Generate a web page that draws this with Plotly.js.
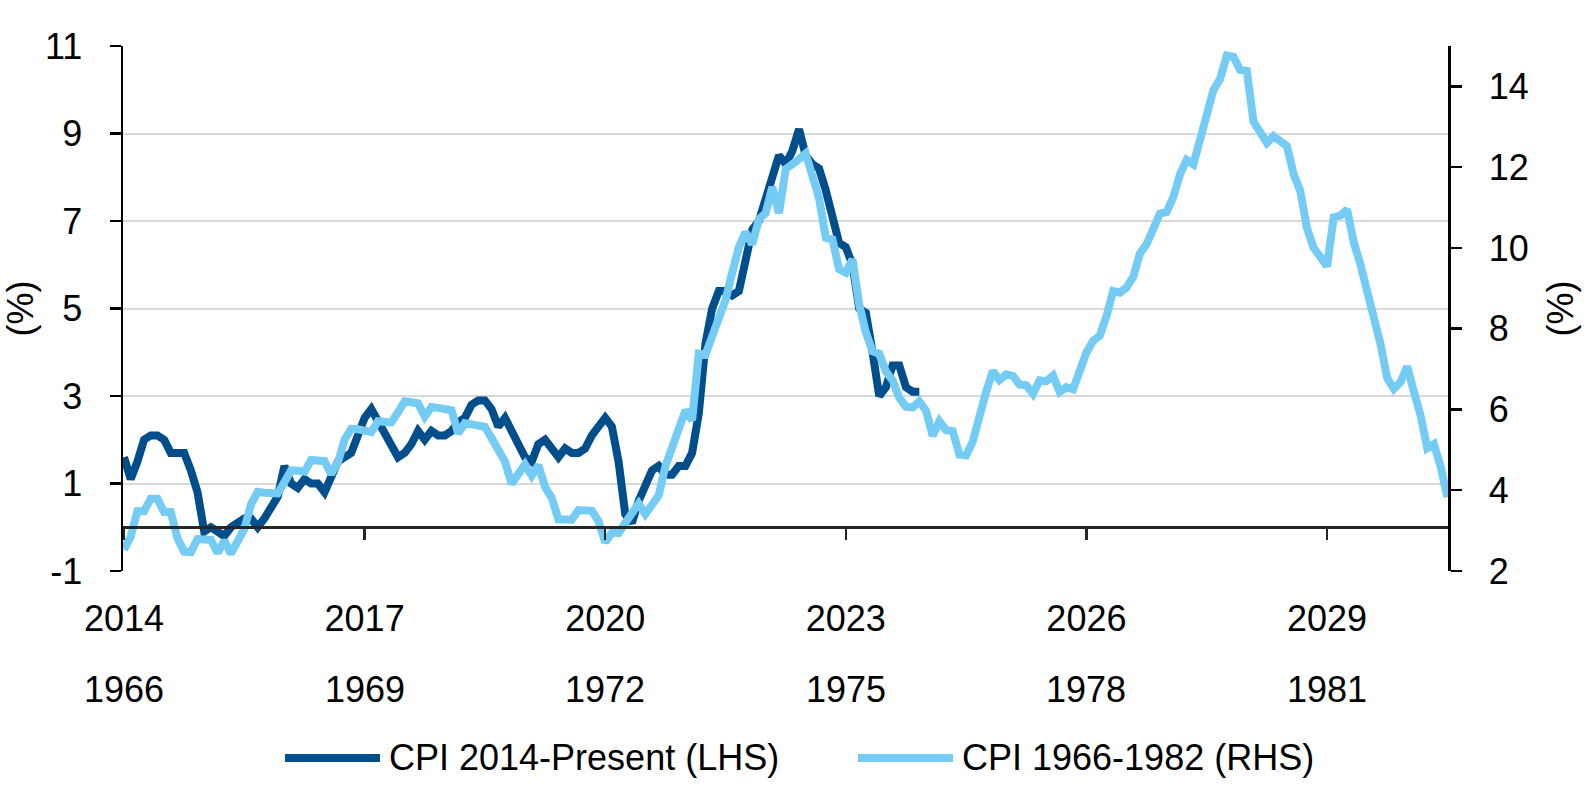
<!DOCTYPE html>
<html>
<head>
<meta charset="utf-8">
<script src="https://cdn.plot.ly/plotly-3.0.1.min.js"></script>
<style>
html,body{margin:0;padding:0;background:#ffffff;}
#chart{width:1584px;height:792px;}
</style>
</head>
<body>
<div id="chart"></div>
<script>
// ---- data (monthly YoY CPI, %) ----
// CPI 2014-Present: Jan 2014 .. Dec 2023
const cpiModern = [
  1.6, 1.1, 1.5, 2.0, 2.1, 2.1, 2.0, 1.7, 1.7, 1.7, 1.3, 0.8,
  -0.1, 0.0, -0.1, -0.2, 0.0, 0.1, 0.2, 0.2, 0.0, 0.2, 0.5, 0.7,
  1.4, 1.0, 0.9, 1.1, 1.0, 1.0, 0.8, 1.1, 1.5, 1.6, 1.7, 2.1,
  2.5, 2.7, 2.4, 2.2, 1.9, 1.6, 1.7, 1.9, 2.2, 2.0, 2.2, 2.1,
  2.1, 2.2, 2.4, 2.5, 2.8, 2.9, 2.9, 2.7, 2.3, 2.5, 2.2, 1.9,
  1.6, 1.5, 1.9, 2.0, 1.8, 1.6, 1.8, 1.7, 1.7, 1.8, 2.1, 2.3,
  2.5, 2.3, 1.5, 0.3, 0.1, 0.6, 1.0, 1.3, 1.4, 1.2, 1.2, 1.4,
  1.4, 1.7, 2.6, 4.2, 5.0, 5.4, 5.4, 5.3, 5.4, 6.2, 6.8, 7.0,
  7.5, 7.9, 8.5, 8.3, 8.6, 9.1, 8.5, 8.3, 8.2, 7.7, 7.1, 6.5,
  6.4, 6.0, 5.0, 4.9, 4.0, 3.0, 3.2, 3.7, 3.7, 3.2, 3.1, 3.1
];
// CPI 1966-1982: Jun 1966 .. Dec 1982
const cpiHistoric = [
  2.53, 2.85, 3.48, 3.48, 3.79, 3.79, 3.46,
  3.46, 2.81, 2.48, 2.47, 2.79, 2.78, 2.77, 2.45, 2.75, 2.43, 2.74, 3.04,
  3.65, 3.96, 3.94, 3.93, 3.92, 4.20, 4.49, 4.48, 4.46, 4.75, 4.73, 4.72,
  4.40, 4.68, 5.25, 5.52, 5.51, 5.48, 5.44, 5.71, 5.70, 5.68, 5.93, 6.20,
  6.18, 6.15, 5.82, 6.06, 6.04, 6.01, 5.98, 5.41, 5.66, 5.63, 5.60, 5.57,
  5.29, 5.00, 4.71, 4.16, 4.40, 4.64, 4.36, 4.62, 4.08, 3.81, 3.28, 3.27,
  3.27, 3.51, 3.50, 3.49, 3.23, 2.71, 2.95, 2.94, 3.19, 3.42, 3.67, 3.41,
  3.65, 3.87, 4.59, 5.06, 5.53, 5.98, 5.73, 7.38, 7.36, 7.80, 8.25, 8.71,
  9.39, 10.02, 10.39, 10.09, 10.71, 10.86, 11.51, 10.86, 11.95, 12.06, 12.20, 12.34,
  11.80, 11.23, 10.25, 10.21, 9.47, 9.39, 9.72, 8.60, 7.91, 7.44, 7.38, 6.94,
  6.72, 6.29, 6.07, 6.05, 6.20, 5.97, 5.35, 5.71, 5.49, 5.46, 4.88, 4.86,
  5.21, 5.91, 6.44, 6.95, 6.73, 6.87, 6.83, 6.62, 6.60, 6.39, 6.72, 6.70,
  6.84, 6.43, 6.55, 6.50, 6.95, 7.41, 7.70, 7.83, 8.31, 8.93, 8.89, 9.02,
  9.28, 9.86, 10.09, 10.49, 10.85, 10.89, 11.26, 11.82, 12.18, 12.07, 12.61, 13.29,
  13.91, 14.18, 14.76, 14.73, 14.41, 14.38, 13.13, 12.87, 12.60, 12.77, 12.65, 12.52,
  11.83, 11.41, 10.49, 10.00, 9.78, 9.55, 10.76, 10.80, 10.95, 10.14, 9.59, 8.92,
  8.39, 7.62, 6.78, 6.51, 6.68, 7.06, 6.44, 5.85, 5.04, 5.14, 4.59, 3.83
];
const tickMonths = [0, 36, 72, 108, 144, 180];
const modernTickLabels = ['2014', '2017', '2020', '2023', '2026', '2029'];
const historicTickLabels = ['1966', '1969', '1972', '1975', '1978', '1981'];
const leftTicks = [-1, 1, 3, 5, 7, 9, 11];
const leftTickLabels = ['-1', '1', '3', '5', '7', '9', '11'];
const rightTicks = [2, 4, 6, 8, 10, 12, 14];
const seriesNames = ['CPI 2014-Present (LHS)', 'CPI 1966-1982 (RHS)'];
const seriesColors = ['#004f8c', '#74cbf4'];

// ---- geometry (pixels) ----
const W = 1584, H = 792;
const L = 123, R = 1448, T = 46, B = 571;
const pw = R - L, ph = B - T;
const px2x = p => (p - L) / pw;
const px2y = p => (B - p) / ph;
const FONT = 'Liberation Sans, Arial, sans-serif';
const axisColor = '#000000';
const LINE_W = 8;

const traces = [
  {
    x: cpiModern.map((_, i) => i), y: cpiModern,
    type: 'scatter', mode: 'lines', name: seriesNames[0],
    xaxis: 'x', yaxis: 'y',
    line: {color: seriesColors[0], width: LINE_W},
    hoverinfo: 'skip', showlegend: false
  },
  {
    x: cpiHistoric.map((_, i) => i), y: cpiHistoric,
    type: 'scatter', mode: 'lines', name: seriesNames[1],
    xaxis: 'x', yaxis: 'y2',
    line: {color: seriesColors[1], width: LINE_W},
    hoverinfo: 'skip', showlegend: false
  }
];

const annotations = historicTickLabels.map((t, i) => ({
  x: tickMonths[i], xref: 'x', y: px2y(689), yref: 'paper',
  text: t, showarrow: false, xanchor: 'center', yanchor: 'middle',
  font: {family: FONT, size: 36, color: '#000'}
}));
const legendLines = [[285, 380], [858, 953]];
const legendTextX = [388, 961];
const legendY = 758;
const shapes = legendLines.map((lx, i) => ({
  type: 'line', xref: 'paper', yref: 'paper',
  x0: px2x(lx[0]), x1: px2x(lx[1]), y0: px2y(legendY), y1: px2y(legendY),
  line: {color: seriesColors[i], width: LINE_W}
}));
seriesNames.forEach((n, i) => annotations.push({
  x: px2x(legendTextX[i]), xref: 'paper', y: px2y(legendY - 1), yref: 'paper',
  text: n, showarrow: false, xanchor: 'left', yanchor: 'middle',
  font: {family: FONT, size: 36, color: '#000'}, borderpad: 0
}));

const layout = {
  width: W, height: H,
  margin: {l: L, r: W - R, t: T, b: H - B, pad: 0},
  paper_bgcolor: '#ffffff', plot_bgcolor: '#ffffff',
  font: {family: FONT, size: 36, color: '#000'},
  showlegend: false,
  xaxis: {
    range: [-0.15, 198.1],
    anchor: 'free', position: 1 / 12,
    showline: true, linecolor: '#262626', linewidth: 2.5,
    ticks: 'outside', ticklen: 11, tickwidth: 2.5, tickcolor: '#262626',
    tickmode: 'array', tickvals: tickMonths, ticktext: modernTickLabels,
    tickfont: {family: FONT, size: 36, color: '#000'},
    ticklabelstandoff: 48,
    showgrid: false, zeroline: false, fixedrange: true
  },
  yaxis: {
    range: [-1, 11],
    tickmode: 'array', tickvals: leftTicks, ticktext: leftTickLabels,
    showgrid: true, gridcolor: '#d9d9d9', gridwidth: 2,
    showline: true, linecolor: axisColor, linewidth: 2.5,
    ticks: 'outside', ticklen: 11, tickwidth: 2.5, tickcolor: axisColor,
    tickfont: {family: FONT, size: 36, color: '#000'},
    ticklabelstandoff: 20,
    zeroline: false, fixedrange: true,
    title: {text: '(%)', font: {family: FONT, size: 36, color: '#000'}, standoff: 8}
  },
  yaxis2: {
    range: [2, 15], overlaying: 'y', side: 'right', anchor: 'x',
    tickmode: 'array', tickvals: rightTicks,
    showgrid: false, zeroline: false,
    showline: true, linecolor: axisColor, linewidth: 2.5,
    ticks: 'outside', ticklen: 11, tickwidth: 2.5, tickcolor: axisColor,
    tickfont: {family: FONT, size: 36, color: '#000'},
    ticklabelstandoff: 20,
    fixedrange: true,
    title: {text: '(%)', font: {family: FONT, size: 36, color: '#000'}, standoff: 20}
  },
  annotations: annotations,
  shapes: shapes
};

Plotly.newPlot('chart', traces, layout, {staticPlot: true, displayModeBar: false});
</script>
</body>
</html>
